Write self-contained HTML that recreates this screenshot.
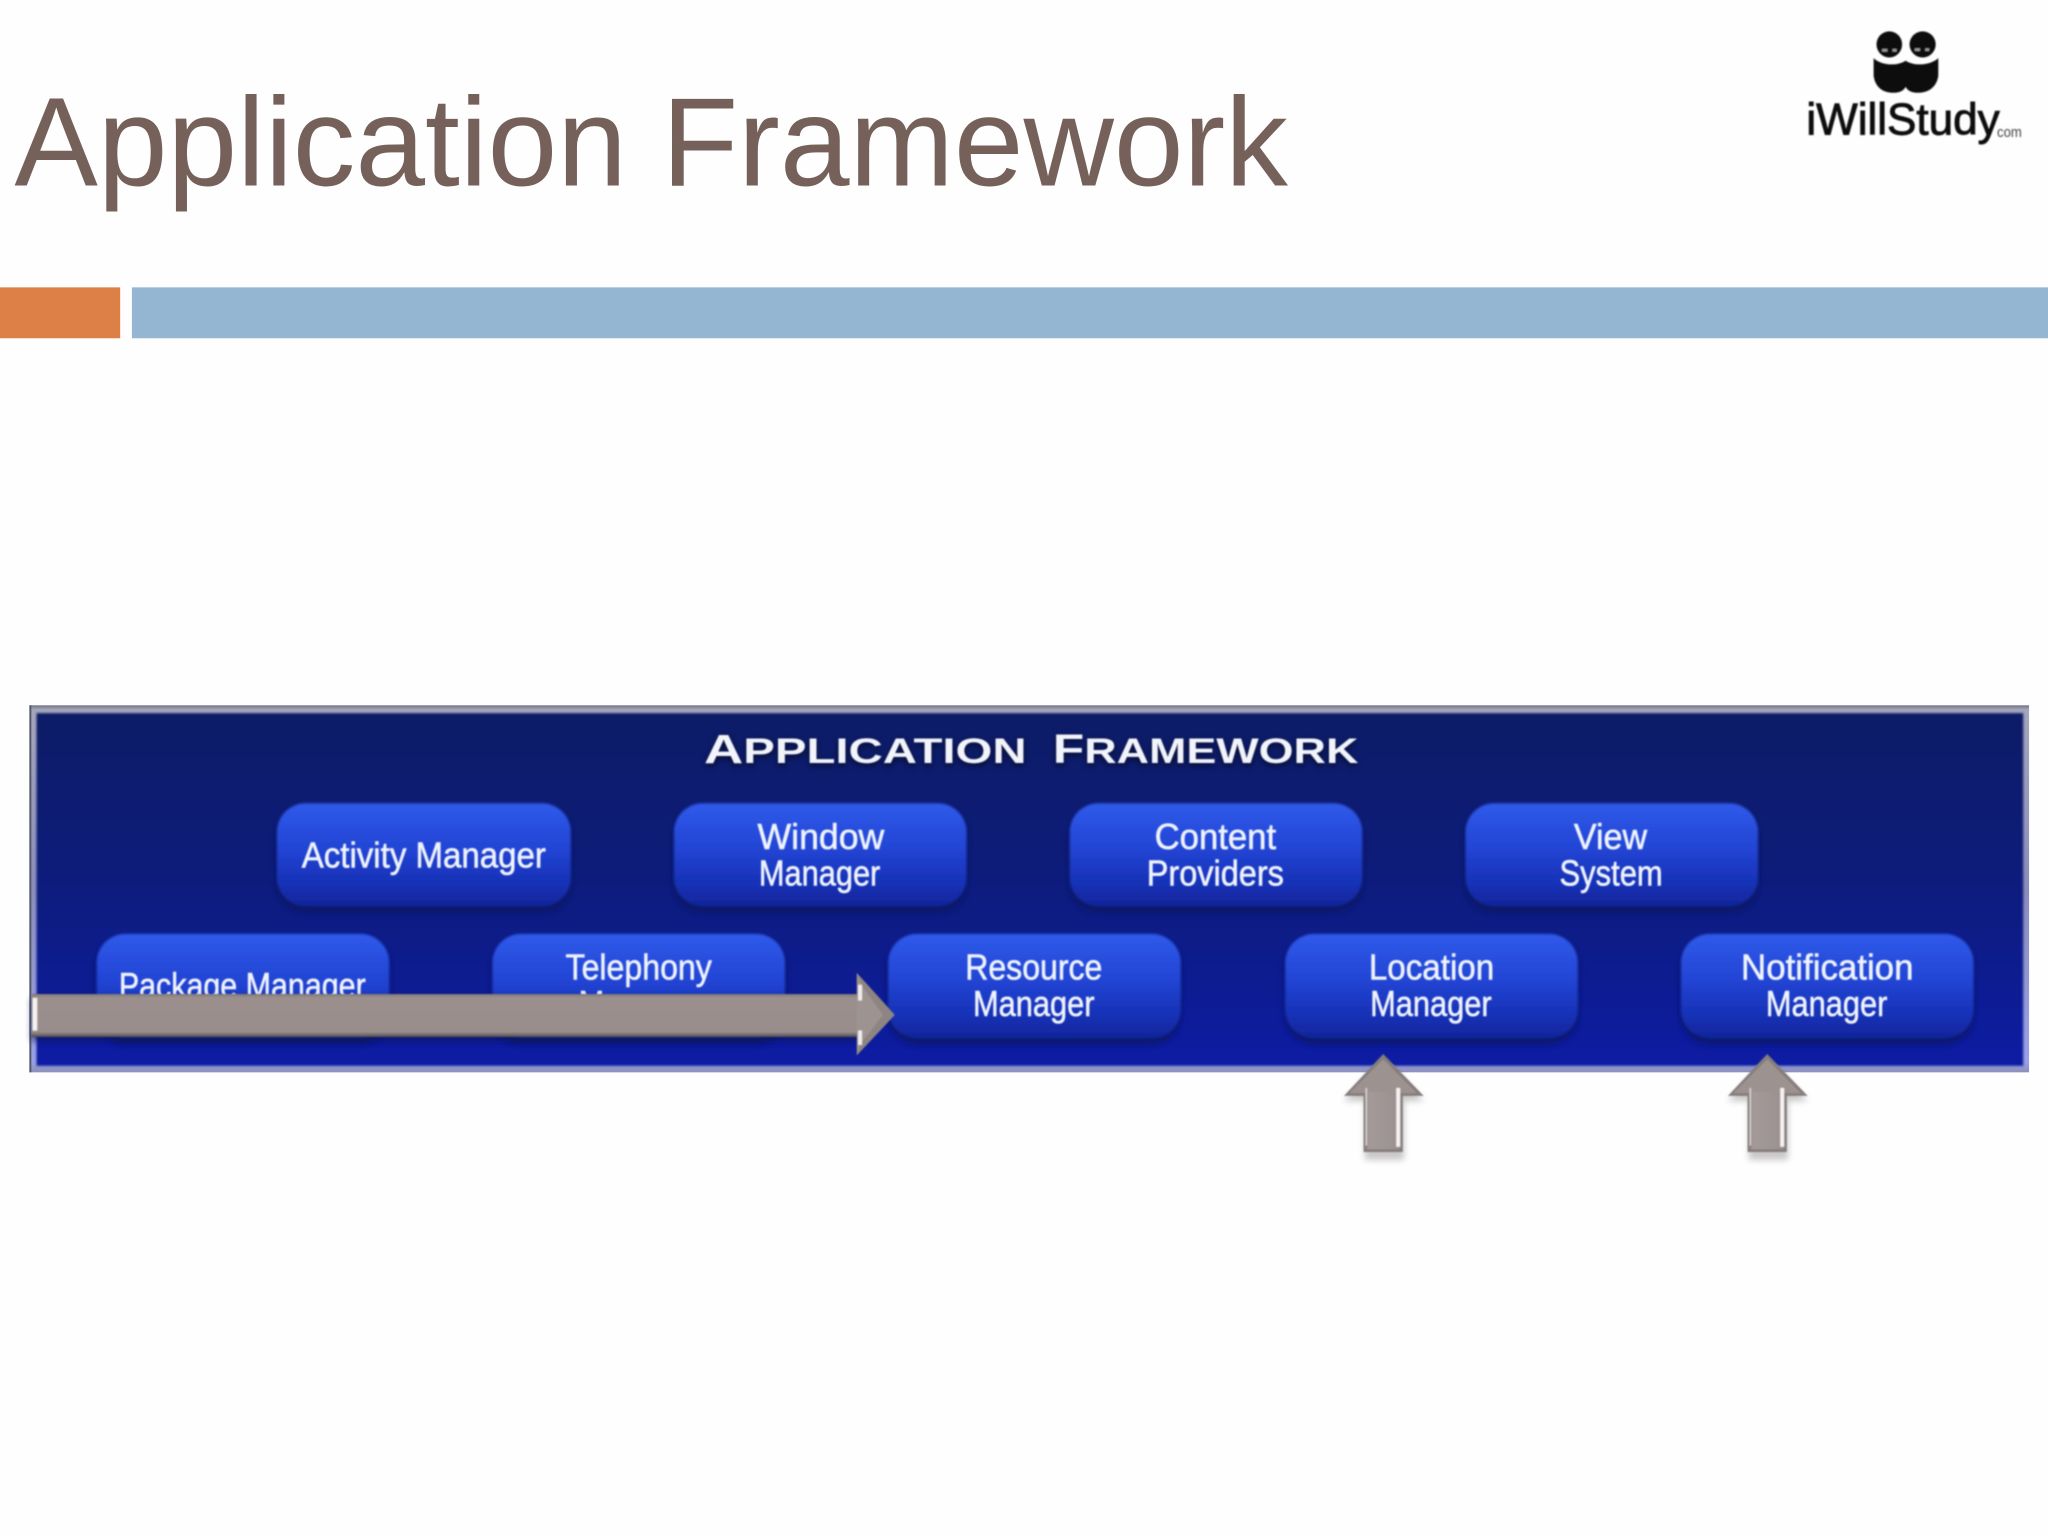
<!DOCTYPE html>
<html><head><meta charset="utf-8"><style>
html,body{margin:0;padding:0;background:#fefefe;width:2048px;height:1536px;overflow:hidden}
svg{display:block}
</style></head><body>
<svg xmlns="http://www.w3.org/2000/svg" width="2048" height="1536" viewBox="0 0 1568 1176">
<defs>
<linearGradient id="bg" x1="0" y1="0" x2="0" y2="1"><stop offset="0" stop-color="#0f1b66"/><stop offset=".45" stop-color="#0f1d7a"/><stop offset=".75" stop-color="#0d1f90"/><stop offset="1" stop-color="#0a1da4"/></linearGradient>
<linearGradient id="pill" x1="0" y1="0" x2="0" y2="1"><stop offset="0" stop-color="#2f5aea"/><stop offset=".45" stop-color="#2244d4"/><stop offset=".8" stop-color="#1630b4"/><stop offset="1" stop-color="#10259a"/></linearGradient>
<linearGradient id="sh" gradientUnits="userSpaceOnUse" x1="0" y1="761" x2="0" y2="794"><stop offset="0" stop-color="#7f7573"/><stop offset=".08" stop-color="#9a8f8d"/><stop offset=".88" stop-color="#988d8b"/><stop offset=".94" stop-color="#756e6e"/><stop offset="1" stop-color="#4c4a55"/></linearGradient>
<linearGradient id="band" x1="0" y1="0" x2="0" y2="1"><stop offset="0" stop-color="#6f7286"/><stop offset=".012" stop-color="#a5a6bb"/><stop offset=".5" stop-color="#8a8dbb"/><stop offset=".97" stop-color="#9aa0e6"/><stop offset="1" stop-color="#8c90b8"/></linearGradient>
<linearGradient id="shaft" x1="0" y1="0" x2="1" y2="0"><stop offset="0" stop-color="#8b8381"/><stop offset=".1" stop-color="#a39a99"/><stop offset=".9" stop-color="#9a9190"/><stop offset="1" stop-color="#8b8381"/></linearGradient>
<filter id="soft" x="-5%" y="-20%" width="110%" height="140%"><feGaussianBlur stdDeviation=".6"/></filter>
<filter id="pb" x="-5%" y="-10%" width="110%" height="120%"><feGaussianBlur stdDeviation="1.1"/></filter>
<filter id="bl" x="-10%" y="-20%" width="120%" height="140%"><feGaussianBlur stdDeviation="2.4"/></filter>
<filter id="lg" x="-10%" y="-30%" width="120%" height="160%"><feGaussianBlur stdDeviation=".6"/></filter>
<filter id="e" x="-2%" y="-2%" width="104%" height="104%"><feGaussianBlur stdDeviation=".8"/></filter>
</defs>

<!-- title and bars -->
<text x="11" y="142" font-family="'Liberation Sans',sans-serif" font-size="97" fill="#75605a" textLength="975" lengthAdjust="spacingAndGlyphs">Application Framework</text>
<rect x="0" y="220" width="92" height="39" fill="#dd8047"/>
<rect x="101" y="220" width="1467" height="39" fill="#94b6d2"/>

<!-- logo -->
<g filter="url(#lg)" fill="#111">
<ellipse cx="1446.5" cy="34" rx="9.8" ry="10"/>
<ellipse cx="1472" cy="34" rx="10" ry="10"/>
<rect x="1441" y="37.5" width="4" height="2" fill="#999"/><rect x="1449" y="37.5" width="3" height="2" fill="#999"/>
<rect x="1466" y="37" width="4" height="2" fill="#999"/><rect x="1474" y="37" width="3" height="2" fill="#999"/>
<path d="M1434.5 44.5 C1440 50 1452 51 1459 46.5 C1466 51 1478 50 1484 44.5 L1484 58 C1483 66 1477 71 1469 71 C1464 71 1461 70 1459 66.5 C1457 70 1454 71 1449 71 C1441 71 1435.5 66 1434.5 58 Z"/>
<text x="1383" y="103" font-family="'Liberation Sans',sans-serif" font-size="34" textLength="148" lengthAdjust="spacingAndGlyphs" stroke="#111" stroke-width=".7">iWillStudy</text>
<text x="1529" y="105" font-family="'Liberation Sans',sans-serif" font-size="11" fill="#444" textLength="19" lengthAdjust="spacingAndGlyphs">com</text>
</g>

<!-- panel -->
<rect x="22.5" y="540" width="1531" height="281" fill="url(#band)"/>
<rect x="22.5" y="540" width="1.5" height="281" fill="#55586c"/>
<rect x="28" y="546" width="1521" height="270" fill="url(#bg)" filter="url(#e)"/>

<!-- panel heading -->
<g font-family="'Liberation Sans',sans-serif" font-weight="700" font-size="27" lengthAdjust="spacingAndGlyphs">
<g fill="#000" opacity=".6" filter="url(#bl)">
<text x="539" y="586" textLength="247" lengthAdjust="spacingAndGlyphs"><tspan font-size="31">A</tspan>PPLICATION</text>
<text x="806" y="586" textLength="234" lengthAdjust="spacingAndGlyphs"><tspan font-size="31">F</tspan>RAMEWORK</text>
</g>
<g fill="#f2f4fb" filter="url(#soft)">
<text x="539" y="584" textLength="247" lengthAdjust="spacingAndGlyphs"><tspan font-size="31">A</tspan>PPLICATION</text>
<text x="806" y="584" textLength="234" lengthAdjust="spacingAndGlyphs"><tspan font-size="31">F</tspan>RAMEWORK</text>
</g>
</g>

<!-- pill shadows -->
<g fill="#081258" opacity=".75" filter="url(#bl)">
<rect x="212" y="619" width="225" height="79" rx="22"/><rect x="516" y="619" width="224" height="79" rx="22"/><rect x="819" y="619" width="224" height="79" rx="22"/><rect x="1122" y="619" width="224" height="79" rx="22"/>
<rect x="74" y="719" width="224" height="80" rx="22"/><rect x="377" y="719" width="224" height="80" rx="22"/><rect x="680" y="719" width="224" height="80" rx="22"/><rect x="984" y="719" width="224" height="80" rx="22"/><rect x="1287" y="719" width="224" height="80" rx="22"/>
</g>
<!-- pills -->
<g fill="url(#pill)" filter="url(#pb)">
<rect x="212" y="615" width="225" height="79" rx="22"/><rect x="516" y="615" width="224" height="79" rx="22"/><rect x="819" y="615" width="224" height="79" rx="22"/><rect x="1122" y="615" width="224" height="79" rx="22"/>
<rect x="74" y="715" width="224" height="80" rx="22"/><rect x="377" y="715" width="224" height="80" rx="22"/><rect x="680" y="715" width="224" height="80" rx="22"/><rect x="984" y="715" width="224" height="80" rx="22"/><rect x="1287" y="715" width="224" height="80" rx="22"/>
</g>
<!-- pill labels -->
<g font-family="'Liberation Sans',sans-serif" font-size="28" fill="#eef3fd" filter="url(#soft)" stroke="#eef3fd" stroke-width=".45">
<text x="231" y="664" textLength="187" lengthAdjust="spacingAndGlyphs">Activity Manager</text>
<text x="580" y="650" textLength="97" lengthAdjust="spacingAndGlyphs">Window</text>
<text x="581" y="678" textLength="93" lengthAdjust="spacingAndGlyphs">Manager</text>
<text x="884" y="650" textLength="93" lengthAdjust="spacingAndGlyphs">Content</text>
<text x="878" y="678" textLength="105" lengthAdjust="spacingAndGlyphs">Providers</text>
<text x="1205" y="650" textLength="56" lengthAdjust="spacingAndGlyphs">View</text>
<text x="1194" y="678" textLength="79" lengthAdjust="spacingAndGlyphs">System</text>
<text x="91" y="764" textLength="189" lengthAdjust="spacingAndGlyphs">Package Manager</text>
<text x="433" y="750" textLength="112" lengthAdjust="spacingAndGlyphs">Telephony</text>
<text x="443" y="778" textLength="93" lengthAdjust="spacingAndGlyphs">Manager</text>
<text x="739" y="750" textLength="105" lengthAdjust="spacingAndGlyphs">Resource</text>
<text x="745" y="778" textLength="93" lengthAdjust="spacingAndGlyphs">Manager</text>
<text x="1048" y="750" textLength="96" lengthAdjust="spacingAndGlyphs">Location</text>
<text x="1049" y="778" textLength="93" lengthAdjust="spacingAndGlyphs">Manager</text>
<text x="1333" y="750" textLength="132" lengthAdjust="spacingAndGlyphs">Notification</text>
<text x="1352" y="778" textLength="93" lengthAdjust="spacingAndGlyphs">Manager</text>
</g>

<!-- horizontal arrow -->
<rect x="24" y="764" width="640" height="33" fill="#0a1258" opacity=".65" filter="url(#bl)"/>
<g filter="url(#lg)">
<path d="M24 761 H656 V745 L685 777 L656 808 V794 H24 Z" fill="url(#sh)"/>
<path d="M656 745 L685 777 L656 808 L660 798 L676 777 L660 755 Z" fill="#8e8583"/>
<path d="M656 761 V745 L660 755 L676 777 L660 798 L656 808 V794 Z" fill="#9d9391"/>
<rect x="25" y="764" width="3.5" height="25" fill="#f4f2f2"/>
<rect x="657" y="754" width="3" height="12" fill="#f0ecec"/>
<rect x="657" y="789" width="3" height="11" fill="#f0ecec"/>
</g>

<!-- up arrows -->
<g id="ua">
<path d="M1059 811 L1090 843 L1075 843 V888 H1045 V843 L1029 843 Z" fill="#7a7575" opacity=".4" filter="url(#bl)"/>
<g filter="url(#lg)">
<path d="M1059 807 L1090 839 H1074 V882 H1044 V839 H1029 Z" fill="#857d7b"/>
<path d="M1059 811 L1085 837 H1033 Z" fill="#9c9391"/>
<path d="M1045.5 836 H1072.5 V880 H1045.5 Z" fill="url(#shaft)"/>
<rect x="1045.5" y="833" width="1.2" height="44" fill="#d8d3d3"/>
<rect x="1069" y="833" width="3" height="45" fill="#f6f3f3"/>
</g>
</g>
<g>
<path d="M1353 811 L1384 843 L1369 843 V888 H1339 V843 L1323 843 Z" fill="#7a7575" opacity=".4" filter="url(#bl)"/>
<g filter="url(#lg)">
<path d="M1353 807 L1384 839 H1368 V882 H1338 V839 H1323 Z" fill="#857d7b"/>
<path d="M1353 811 L1379 837 H1327 Z" fill="#9c9391"/>
<path d="M1339.5 836 H1366.5 V880 H1339.5 Z" fill="url(#shaft)"/>
<rect x="1339.5" y="833" width="1.2" height="44" fill="#d8d3d3"/>
<rect x="1363" y="833" width="3" height="45" fill="#f6f3f3"/>
</g>
</g>
</svg>
</body></html>
